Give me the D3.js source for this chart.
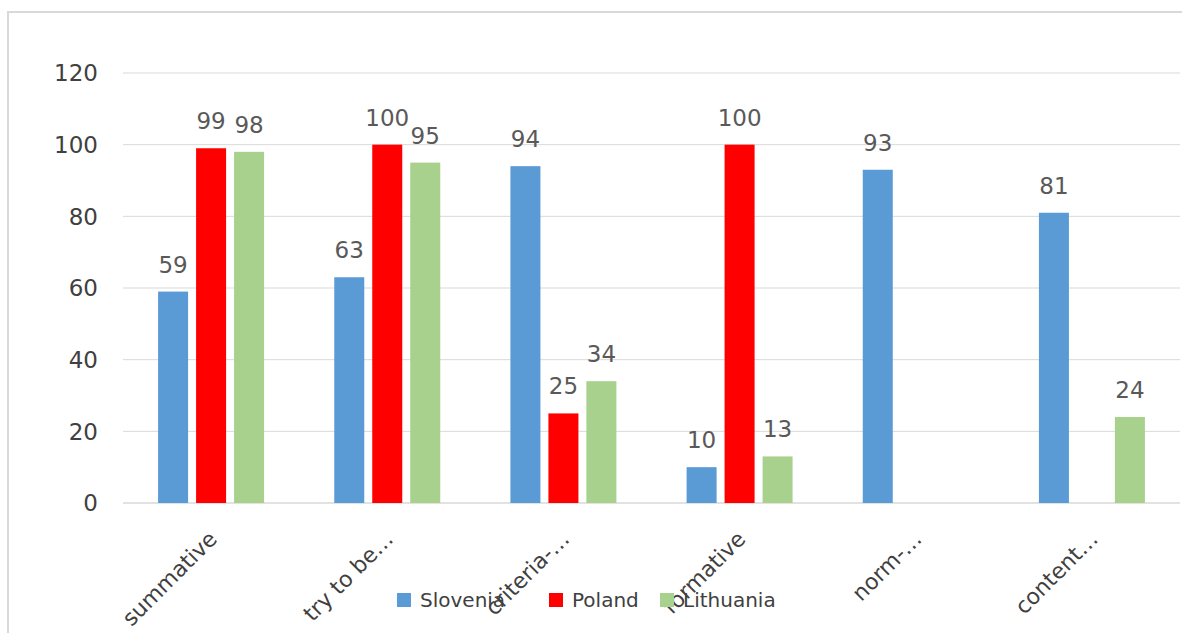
<!DOCTYPE html>
<html>
<head>
<meta charset="utf-8">
<script src="https://d3js.org/d3.v7.min.js"></script>
<style>
  body { margin: 0; background: #fff; }
  text { font-family: "DejaVu Sans", sans-serif; }
</style>
</head>
<body>
<svg width="1182" height="633"></svg>
<script>
// Data
var categories = ["summative", "try to be\u2026", "criteria-\u2026", "formative", "norm-\u2026", "content\u2026"];
var slovenia = [59, 63, 94, 10, 93, 81];
var poland = [99, 100, 25, 100, null, null];
var lithuania = [98, 95, 34, 13, null, 24];
var seriesNames = ["Slovenia", "Poland", "Lithuania"];
var seriesColors = ["#5b9bd5", "#ff0000", "#a9d18e"];
var yTicks = [0, 20, 40, 60, 80, 100, 120];

var svg = d3.select("svg"),
    width = +svg.attr("width"),
    height = +svg.attr("height");

// chart frame
svg.append("rect")
    .attr("x", 8).attr("y", 12)
    .attr("width", width + 10).attr("height", height + 10)
    .attr("fill", "none")
    .attr("stroke", "#d9d9d9")
    .attr("stroke-width", 2);

var margin = {left: 123, right: 2};

var x = d3.scaleBand()
    .domain(categories)
    .range([margin.left, width - margin.right]);

var y = d3.scaleLinear()
    .domain([0, 120])
    .range([503, 73]);

var x1 = d3.scaleBand()
    .domain(seriesNames)
    .range([x.bandwidth() / 2 - 53, x.bandwidth() / 2 + 53])
    .paddingInner(0.21);

// gridlines
svg.append("g")
    .selectAll("line")
    .data(yTicks)
    .enter().append("line")
    .attr("x1", margin.left)
    .attr("x2", width - margin.right)
    .attr("y1", function(d){ return y(d); })
    .attr("y2", function(d){ return y(d); })
    .attr("stroke", "#d9d9d9")
    .attr("stroke-width", function(d){ return d == 0 ? 1.5 : 1; });

// y labels
svg.append("g")
    .selectAll("text")
    .data(yTicks)
    .enter().append("text")
    .attr("x", 98)
    .attr("y", function(d){ return y(d); })
    .attr("dy", "0.36em")
    .attr("text-anchor", "end")
    .attr("fill", "#404040")
    .style("font-size", "23px")
    .text(function(d){ return d; });

// bars
var series = [slovenia, poland, lithuania];
var rows = [];
series.forEach(function(vals, s){
    vals.forEach(function(v, i){
        if (v != null) rows.push({cat: categories[i], s: seriesNames[s], color: seriesColors[s], v: v});
    });
});

var bars = svg.append("g");
bars.selectAll("rect")
    .data(rows)
    .enter().append("rect")
    .attr("x", function(d){ return x(d.cat) + x1(d.s); })
    .attr("y", function(d){ return y(d.v); })
    .attr("width", x1.bandwidth())
    .attr("height", function(d){ return y(0) - y(d.v); })
    .attr("fill", function(d){ return d.color; });

bars.selectAll("text")
    .data(rows)
    .enter().append("text")
    .attr("x", function(d){ return x(d.cat) + x1(d.s) + x1.bandwidth() / 2; })
    .attr("y", function(d){ return y(d.v) - 19; })
    .attr("text-anchor", "middle")
    .attr("fill", "#595959")
    .style("font-size", "23px")
    .text(function(d){ return d.v; });

// category labels
svg.append("g")
    .selectAll("text")
    .data(categories)
    .enter().append("text")
    .attr("transform", function(d){
        return "translate(" + (x(d) + x.bandwidth() / 2 - 4) + ",529) rotate(-45)";
    })
    .attr("text-anchor", "end")
    .attr("dy", "0.73em")
    .attr("fill", "#404040")
    .style("font-size", "22px")
    .text(function(d){ return d; });

// legend
var legendX = [397, 549, 660];
var legend = svg.append("g")
    .selectAll("g")
    .data(seriesNames)
    .enter().append("g")
    .attr("transform", function(d, i){ return "translate(" + legendX[i] + ",600)"; });
legend.append("rect")
    .attr("x", 0).attr("y", -7)
    .attr("width", 14).attr("height", 14)
    .attr("fill", function(d, i){ return seriesColors[i]; });
legend.append("text")
    .attr("x", 23)
    .attr("dy", "0.36em")
    .attr("fill", "#404040")
    .style("font-size", "20px")
    .text(function(d){ return d; });
</script>
</body>
</html>
